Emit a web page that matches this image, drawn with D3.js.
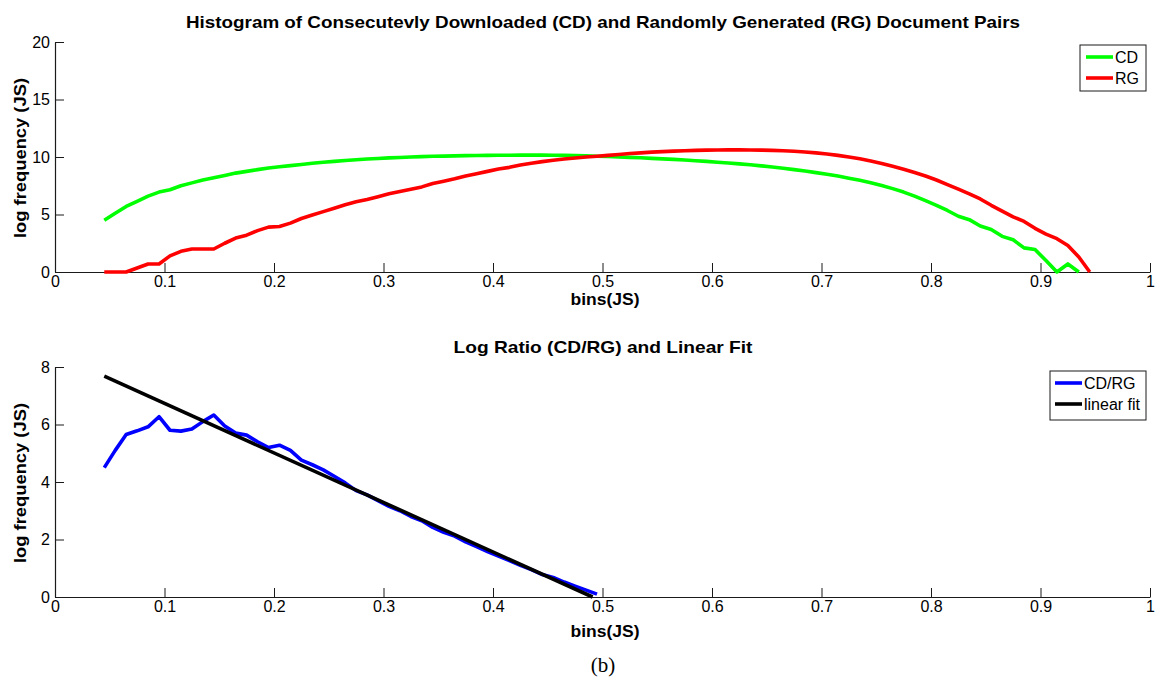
<!DOCTYPE html>
<html>
<head>
<meta charset="utf-8">
<script src="https://cdn.jsdelivr.net/npm/d3@7"></script>
<style>
  html, body { margin: 0; padding: 0; background: #fff; }
  svg { display: block; font-family: "Liberation Sans", Arial, Helvetica, sans-serif; }
</style>
</head>
<body>
<svg id="chart" width="1163" height="690"></svg>
<script>
// ---- Data ----
const binsTop = d3.range(0, 91).map(i => +(0.045 + 0.01 * i).toFixed(3)); // 0.045 .. 0.945

const cdValues = [
  4.5, 5.1, 5.7, 6.15, 6.6, 6.95, 7.15, 7.5, 7.75, 8.0,
  8.2, 8.4, 8.6, 8.75, 8.9, 9.05, 9.15, 9.25, 9.35, 9.45,
  9.55, 9.62, 9.7, 9.76, 9.82, 9.87, 9.92, 9.96, 10.0, 10.03,
  10.06, 10.08, 10.1, 10.12, 10.13, 10.14, 10.15, 10.15, 10.16, 10.16,
  10.16, 10.15, 10.14, 10.12, 10.1, 10.07, 10.04, 10.0, 9.97, 9.93,
  9.88, 9.84, 9.79, 9.74, 9.68, 9.62, 9.55, 9.48, 9.4, 9.32,
  9.23, 9.13, 9.02, 8.9, 8.78, 8.64, 8.5, 8.34, 8.16, 7.97,
  7.76, 7.52, 7.25, 6.95, 6.6, 6.2, 5.8, 5.35, 4.85, 4.55,
  4.0, 3.7, 3.1, 2.8, 2.1, 1.95, 1.0, 0.0, 0.7, 0.0
]; // 90 values, 0.045 .. 0.935

const rgValues = [
  0, 0, 0, 0.35, 0.7, 0.7, 1.4, 1.8, 2.0, 2.0,
  2.0, 2.5, 2.95, 3.2, 3.6, 3.9, 3.95, 4.25, 4.65, 4.95,
  5.25, 5.55, 5.85, 6.1, 6.3, 6.55, 6.8, 7.0, 7.2, 7.4,
  7.7, 7.9, 8.1, 8.35, 8.55, 8.75, 8.95, 9.1, 9.3, 9.45,
  9.6, 9.72, 9.82, 9.92, 10.0, 10.07, 10.14, 10.22, 10.3, 10.36,
  10.42, 10.47, 10.51, 10.55, 10.58, 10.6, 10.61, 10.62, 10.62, 10.61,
  10.6, 10.58, 10.55, 10.5, 10.44, 10.36, 10.26, 10.14, 10.0, 9.84,
  9.65, 9.44, 9.2, 8.94, 8.65, 8.35, 8.0, 7.6, 7.2, 6.8,
  6.35, 5.8, 5.3, 4.8, 4.4, 3.8, 3.3, 2.9, 2.3, 1.3,
  0.0
]; // 91 values, 0.045 .. 0.945

const ratioValues = [
  4.5, 5.1, 5.65, 5.78, 5.92, 6.27, 5.8, 5.77, 5.84, 6.1,
  6.33, 5.95, 5.7, 5.63, 5.4, 5.2, 5.28, 5.1, 4.76, 4.6,
  4.42, 4.2, 3.97, 3.7, 3.55, 3.35, 3.15, 3.0, 2.8, 2.65,
  2.42, 2.25, 2.12, 1.92, 1.75, 1.58, 1.42, 1.27, 1.1, 0.95,
  0.78, 0.68, 0.52, 0.38, 0.24, 0.1
]; // 0.045 .. 0.495

const fitX = [0.045, 0.491];
const fitY = [7.68, 0.0];

const xTicks = [0, 0.1, 0.2, 0.3, 0.4, 0.5, 0.6, 0.7, 0.8, 0.9, 1];
const yTicksTop = [0, 5, 10, 15, 20];
const yTicksBot = [0, 2, 4, 6, 8];

const titleTop = "Histogram of Consecutevly Downloaded (CD) and Randomly Generated (RG) Document Pairs";
const titleBot = "Log Ratio (CD/RG) and Linear Fit";
const xLabel = "bins(JS)";
const yLabel = "log frequency (JS)";
const caption = "(b)";

// ---- Layout ----
const svg = d3.select("#chart");
const X0 = 55, X1 = 1150;
const x = d3.scaleLinear().domain([0, 1]).range([X0, X1]);
const yTop = d3.scaleLinear().domain([0, 20]).range([272, 42]);
const yBot = d3.scaleLinear().domain([0, 8]).range([597, 367]);
const axisColor = "#1a1a1a";

function drawAxes(yScale, yTicks) {
  const g = svg.append("g");
  const xa = g.append("g")
    .attr("transform", `translate(0,${yScale(0)})`)
    .call(d3.axisBottom(x).tickValues(xTicks).tickFormat(d3.format("")).tickSizeInner(-9).tickSizeOuter(0).tickPadding(4));
  const ya = g.append("g")
    .attr("transform", `translate(${X0},0)`)
    .call(d3.axisLeft(yScale).tickValues(yTicks).tickFormat(d3.format("")).tickSizeInner(-9).tickSizeOuter(0).tickPadding(5));
  [xa, ya].forEach(a => {
    a.selectAll("path.domain").attr("stroke", axisColor).attr("stroke-width", 1.2);
    a.selectAll(".tick line").attr("stroke", axisColor).attr("stroke-width", 1);
    a.selectAll(".tick text").attr("fill", "#000").style("font-size", "16px")
      .style("font-family", '"Liberation Sans", Arial, sans-serif');
  });
}

drawAxes(yTop, yTicksTop);
drawAxes(yBot, yTicksBot);

function drawLine(xs, ys, yScale, color, width) {
  const pts = ys.map((v, i) => [xs[i], v]);
  svg.append("path")
    .datum(pts)
    .attr("fill", "none")
    .attr("stroke", color)
    .attr("stroke-width", width)
    .attr("stroke-linejoin", "round")
    .attr("stroke-linecap", "butt")
    .attr("d", d3.line().x(d => x(d[0])).y(d => yScale(d[1])));
}

const GREEN = "#00ff00", RED = "#ff0000", BLUE = "#0000ff", BLACK = "#000000";
drawLine(binsTop, cdValues, yTop, GREEN, 3.6);
drawLine(binsTop, rgValues, yTop, RED, 3.6);
drawLine(binsTop, ratioValues, yBot, BLUE, 3.6);
drawLine(fitX, fitY, yBot, BLACK, 3.6);

// ---- Texts ----
function text(t, px, py, opts = {}) {
  const el = svg.append("text")
    .attr("x", px).attr("y", py)
    .attr("text-anchor", opts.anchor || "middle")
    .style("font-size", (opts.size || 16) + "px")
    .style("font-weight", opts.bold ? "bold" : "normal")
    .style("font-family", opts.family || '"Liberation Sans", Arial, sans-serif')
    .attr("fill", "#000")
    .text(t);
  if (opts.len) el.attr("textLength", opts.len).attr("lengthAdjust", "spacingAndGlyphs");
  if (opts.rotate) el.attr("transform", `rotate(-90,${px},${py})`);
  return el;
}

text(titleTop, 603, 28, { bold: true, size: 17, len: 834 });
text(titleBot, 603, 353, { bold: true, size: 17, len: 299 });
text(xLabel, 605, 305, { bold: true, size: 16, len: 69 });
text(xLabel, 605, 637, { bold: true, size: 16, len: 69 });
text(yLabel, 26, 158, { bold: true, size: 17, len: 160 });
text(yLabel, 26, 483, { bold: true, size: 17, len: 160 });
svg.selectAll("text").filter(function () { return d3.select(this).text() === yLabel; })
  .each(function () {
    const el = d3.select(this);
    el.attr("transform", `rotate(-90,${el.attr("x")},${el.attr("y")})`);
  });
text(caption, 603, 672, { size: 21, family: '"Liberation Serif", "Times New Roman", serif' });

// ---- Legends ----
function legend(items, boxX, boxY, boxW, boxH, lineX, rowYs) {
  svg.append("rect")
    .attr("x", boxX).attr("y", boxY).attr("width", boxW).attr("height", boxH)
    .attr("fill", "#fff").attr("stroke", axisColor).attr("stroke-width", 1);
  items.forEach((it, i) => {
    svg.append("line")
      .attr("x1", lineX).attr("x2", lineX + 27)
      .attr("y1", rowYs[i]).attr("y2", rowYs[i])
      .attr("stroke", it.color).attr("stroke-width", 3.6);
    text(it.label, lineX + 29, rowYs[i] + 6, { anchor: "start", size: 16 });
  });
}

legend([{ label: "CD", color: GREEN }, { label: "RG", color: RED }],
  1080, 45, 66, 46, 1086, [57, 78]);
legend([{ label: "CD/RG", color: BLUE }, { label: "linear fit", color: BLACK }],
  1050, 371, 96, 49, 1055, [383, 404]);
</script>
</body>
</html>
